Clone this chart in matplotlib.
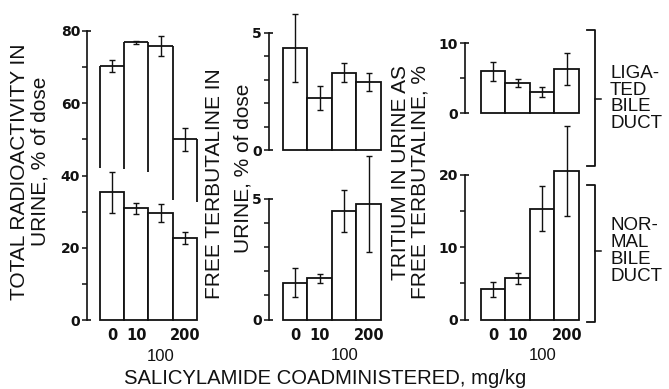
import matplotlib
matplotlib.use('Agg')
import matplotlib.pyplot as plt
from matplotlib import transforms
from matplotlib.lines import Line2D

plt.rcParams['font.family'] = ['Liberation Sans', 'DejaVu Sans']

W, H = 669, 389
INK = '#111111'

# salicylamide dose groups (mg/kg)
doses = ['0', '10', '100', '200']
label_row = [0, 0, 1, 0]

# total radioactivity in urine, % of dose
total_lig = [70.4, 76.9, 75.9, 50.0]
total_lig_err = [1.7, 0.4, 2.8, 3.1]
total_lig_edge_bottom = [42.2, 41.8, 41.1, 33.2, 32.7]
total_norm = [35.3, 30.9, 29.7, 22.6]
total_norm_err = [5.7, 1.5, 2.5, 1.7]

# free terbutaline in urine, % of dose
free_lig = [4.37, 2.21, 3.30, 2.91]
free_lig_err = [1.45, 0.51, 0.41, 0.39]
free_norm = [1.52, 1.70, 4.50, 4.77]
free_norm_err = [0.60, 0.20, 0.87, 1.98]

# tritium in urine as free terbutaline, %
trit_lig = [5.95, 4.33, 3.04, 6.29]
trit_lig_err = [1.30, 0.53, 0.70, 2.26]
trit_norm = [4.2, 5.72, 15.35, 20.6]
trit_norm_err = [1.05, 0.74, 3.15, 6.25]


def px_axes(fig, x0, x1, y0, y1):
    """axes from pixel box (y measured from top)"""
    return fig.add_axes([x0 / W, 1 - y1 / H, (x1 - x0) / W, (y1 - y0) / H])


def style_axis(ax, xlim, ylim, major, minor, width_px):
    ax.set_xlim(*xlim)
    ax.set_ylim(*ylim)
    for s in ['top', 'right', 'bottom']:
        ax.spines[s].set_visible(False)
    ax.spines['left'].set_linewidth(1.2)
    ax.spines['left'].set_color(INK)
    ax.set_xticks([])
    ax.set_yticks(major)
    ax.set_yticks(minor, minor=True)
    ax.tick_params(axis='y', which='both', direction='out', length=3.5,
                   width=1.1, colors=INK, pad=1.5)
    for lbl in ax.get_yticklabels():
        lbl.set_family('DejaVu Sans')
        lbl.set_fontweight('bold')
        lbl.set_fontsize(10)
    ax.set_facecolor('none')
    # small inward stubs at both ends of the y spine
    tr = transforms.blended_transform_factory(ax.transAxes, ax.transData)
    stub = 4.0 / width_px
    for y in ylim:
        ax.plot([0, stub], [y, y], transform=tr, color=INK, lw=1.2,
                clip_on=False, solid_capstyle='butt')


def bars(ax, values, errs):
    x = range(len(values))
    ax.bar(x, values, width=1.0, color='white', edgecolor=INK,
           linewidth=1.3, clip_on=False, zorder=2)
    ax.errorbar(x, values, yerr=errs, fmt='none', ecolor=INK,
                elinewidth=1.0, capsize=2.2, capthick=1.0,
                clip_on=False, zorder=3)


def dose_labels(ax):
    for i, (d, row) in enumerate(zip(doses, label_row)):
        if row == 0:
            ax.annotate(d, xy=(i, 0), xycoords=('data', 'axes fraction'),
                        xytext=(0, -8), textcoords='offset pixels',
                        ha='center', va='top', fontsize=10.5,
                        fontweight='bold', family='DejaVu Sans', color=INK)
        else:
            ax.annotate(d, xy=(i, 0), xycoords=('data', 'axes fraction'),
                        xytext=(0, -29), textcoords='offset pixels',
                        ha='center', va='top', fontsize=12, color=INK)


fig = plt.figure(figsize=(W / 100, H / 100), dpi=100)
fig.patch.set_facecolor('white')

# --- left panel: total radioactivity (both groups on one axis) ---
ax1 = px_axes(fig, 87, 197, 31, 320)
style_axis(ax1, (-1.036, 3.5), (0, 80), [0, 20, 40, 60, 80],
           [10, 30, 50, 70], 110)
bars(ax1, total_norm, total_norm_err)
# ligated bile duct bars drawn as open-bottomed outlines
for i, top in enumerate(total_lig):
    ax1.hlines(top, i - 0.5, i + 0.5, color=INK, lw=1.3, zorder=2,
               clip_on=False)
for j, bottom in enumerate(total_lig_edge_bottom):
    neighbours = [total_lig[k] for k in (j - 1, j) if 0 <= k < len(total_lig)]
    ax1.vlines(j - 0.5, bottom, max(neighbours), color=INK, lw=1.3,
               zorder=2, clip_on=False)
ax1.errorbar(range(4), total_lig, yerr=total_lig_err, fmt='none', ecolor=INK,
             elinewidth=1.0, capsize=2.2, capthick=1.0, zorder=3,
             clip_on=False)
dose_labels(ax1)

# --- middle panels: free terbutaline ---
ax2 = px_axes(fig, 269, 381, 33, 150)
style_axis(ax2, (-1.07, 3.5), (0, 5), [0, 5], [1, 2, 3, 4], 112)
bars(ax2, free_lig, free_lig_err)

ax3 = px_axes(fig, 269, 381, 198.7, 319.5)
style_axis(ax3, (-1.07, 3.5), (0, 5), [0, 5], [1, 2, 3, 4], 112)
bars(ax3, free_norm, free_norm_err)
dose_labels(ax3)

# --- right panels: tritium as free terbutaline ---
ax4 = px_axes(fig, 465, 579, 43, 113.3)
style_axis(ax4, (-1.15, 3.5), (0, 10), [0, 10], [5], 114)
bars(ax4, trit_lig, trit_lig_err)

ax5 = px_axes(fig, 465, 579, 175, 319.5)
style_axis(ax5, (-1.15, 3.5), (0, 20), [0, 10, 20], [5, 15], 114)
bars(ax5, trit_norm, trit_norm_err)
dose_labels(ax5)

# --- axis titles ---
def vtext(x, y, s):
    fig.text(x / W, 1 - y / H, s, rotation=90, ha='center', va='center',
             fontsize=15, color=INK)

vtext(20, 172, 'TOTAL RADIOACTIVITY IN')
vtext(40, 161, 'URINE, % of dose')
vtext(215, 184, 'FREE TERBUTALINE IN')
vtext(243, 168, 'URINE, % of dose')
vtext(401, 173, 'TRITIUM IN URINE AS')
vtext(420, 182, 'FREE TERBUTALINE, %')

fig.text(325 / W, 1 - 378 / H, 'SALICYLAMIDE COADMINISTERED, mg/kg',
         ha='center', va='center', fontsize=14.6, color=INK)

# --- group brackets on the right ---
def bracket(y0, y1, ymid, label):
    f = lambda x, y: (x / W, 1 - y / H)
    pts = [f(587, y0), f(595, y0), f(595, y1), f(587, y1)]
    fig.add_artist(Line2D([p[0] for p in pts], [p[1] for p in pts],
                          color=INK, lw=1.3, transform=fig.transFigure))
    a, b = f(595, ymid), f(601, ymid)
    fig.add_artist(Line2D([a[0], b[0]], [a[1], b[1]], color=INK, lw=1.1,
                          transform=fig.transFigure))
    fig.text(610 / W, 1 - ymid / H, label, ha='left', va='center',
             fontsize=13.5, color=INK, linespacing=0.98)

bracket(30, 166, 98.5, 'LIGA-\nTED\nBILE\nDUCT')
bracket(185, 322, 251, 'NOR-\nMAL\nBILE\nDUCT')

plt.savefig('out.png', dpi=100, facecolor='white')
